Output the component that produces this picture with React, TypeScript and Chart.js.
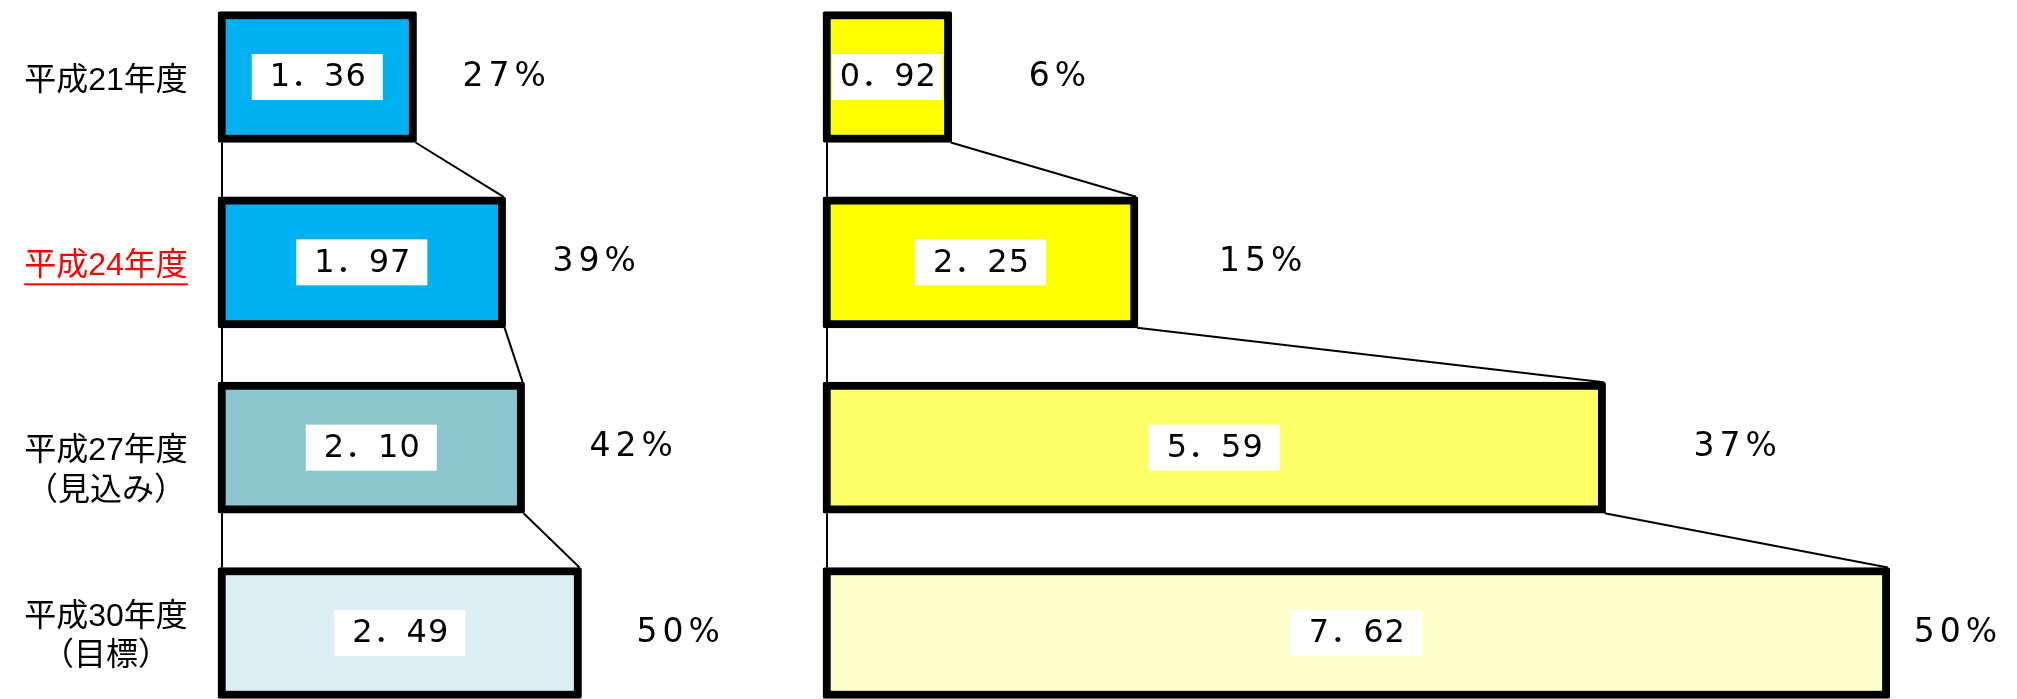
import React, { useEffect, useRef } from "react";
import { Chart, registerables } from "chart.js";

Chart.register(...registerables);

// ---------- data ----------
const tickLabels: (string | string[])[] = [
  "平成21年度",
  "平成24年度",
  ["", "平成27年度", "（見込み）"],
  ["平成30年度", "（目標）"],
];
const highlightIndex = 1;
const leftValues = [1.36, 1.97, 2.1, 2.49];
const leftPercents = ["27%", "39%", "42%", "50%"];
const rightValues = [0.92, 2.25, 5.59, 7.62];
const rightPercents = ["6%", "15%", "37%", "50%"];

// ---------- styles ----------
const W = 2017;
const H = 699;
const leftColors = ["#00B0F0", "#00B0F0", "#8CC6CE", "#DAEEF3"];
const rightColors = ["#FFFF00", "#FFFF00", "#FFFF66", "#FFFFCC"];
const LABEL_FAMILY = '"Liberation Sans", "Noto Sans CJK JP", sans-serif';
const NUM_FAMILY = '"DejaVu Sans", "Noto Sans CJK JP", sans-serif';
const TICK_SIZE = 32;
const LABEL_CENTER_X = 106;
const LABEL_OFFSET_Y = 4;
const Y_AXIS_W = 218;
const leftPctGap = [46, 47, 65, 55];
const rightPctGap = [77, 81, 88, 24];

const fmt = (v: number) => v.toFixed(2).replace(".", "．");

function measureWidest(): number {
  const c = document.createElement("canvas").getContext("2d")!;
  c.font = `${TICK_SIZE}px ${LABEL_FAMILY}`;
  let w = 0;
  tickLabels.forEach((l) => {
    (Array.isArray(l) ? l : [l]).forEach((s) => {
      w = Math.max(w, c.measureText(s).width);
    });
  });
  return w;
}

function overlay(percents: string[], gaps: number[], underline: boolean) {
  return {
    id: "overlay",
    beforeDatasetsDraw(chart: any) {
      const ctx = chart.ctx;
      const els = chart.getDatasetMeta(0).data;
      ctx.save();
      ctx.strokeStyle = "#000";
      ctx.lineWidth = 2;
      for (let i = 0; i < els.length - 1; i++) {
        const a = els[i].getProps(["x", "y", "base", "height"], true);
        const b = els[i + 1].getProps(["x", "y", "base", "height"], true);
        ctx.beginPath();
        ctx.moveTo(a.base + 4, a.y + a.height / 2);
        ctx.lineTo(b.base + 4, b.y - b.height / 2);
        ctx.moveTo(a.x - 1, a.y + a.height / 2);
        ctx.lineTo(b.x - 2, b.y - b.height / 2);
        ctx.stroke();
      }
      ctx.restore();
    },
    afterDatasetsDraw(chart: any) {
      const ctx = chart.ctx;
      const els = chart.getDatasetMeta(0).data;
      const values = chart.data.datasets[0].data as number[];
      els.forEach((el: any, i: number) => {
        const p = el.getProps(["x", "y", "base", "height"], true);
        ctx.save();
        // value box
        ctx.font = `32px ${NUM_FAMILY}`;
        (ctx as any).letterSpacing = "1px";
        const label = fmt(values[i]);
        const tw = ctx.measureText(label).width;
        const inner = p.x - p.base - 16;
        const bw = Math.min(tw + 34, inner - 2);
        const bh = 46;
        const cx = (p.x + p.base) / 2;
        ctx.fillStyle = "#fff";
        ctx.fillRect(cx - bw / 2, p.y - bh / 2, bw, bh);
        ctx.fillStyle = "#000";
        ctx.textAlign = "center";
        ctx.textBaseline = "middle";
        ctx.fillText(label, cx + 1, p.y + 1);
        // percent
        ctx.font = `33px ${NUM_FAMILY}`;
        (ctx as any).letterSpacing = "5px";
        ctx.textAlign = "left";
        ctx.fillText(percents[i], p.x + gaps[i], p.y);
        ctx.restore();
      });
    },
    afterDraw(chart: any) {
      if (!underline) return;
      const ctx = chart.ctx;
      const ys = chart.scales.y;
      const yPix = ys.getPixelForTick(highlightIndex) + LABEL_OFFSET_Y;
      ctx.save();
      ctx.font = `${TICK_SIZE}px ${LABEL_FAMILY}`;
      const w = ctx.measureText(tickLabels[highlightIndex] as string).width;
      ctx.fillStyle = "#FF0000";
      ctx.fillRect(LABEL_CENTER_X - w / 2, yPix + 17, w, 2);
      ctx.restore();
    },
  };
}

function makeChart(canvas: HTMLCanvasElement, side: "left" | "right") {
  const isLeft = side === "left";
  const widest = measureWidest();
  const pad = Y_AXIS_W - LABEL_CENTER_X - widest / 2;
  return new Chart(canvas, {
    type: "bar",
    data: {
      labels: tickLabels as any,
      datasets: [
        {
          data: isLeft ? leftValues : rightValues,
          backgroundColor: isLeft ? leftColors : rightColors,
          borderColor: "#000",
          borderWidth: 8,
          borderSkipped: false,
          borderRadius: 2,
          barThickness: 131,
          clip: false as any,
        },
      ],
    },
    options: {
      indexAxis: "y",
      animation: false,
      responsive: false,
      layout: {
        padding: isLeft
          ? { left: 0, right: 13, top: 77, bottom: 66 }
          : { left: 8, right: 74, top: 77, bottom: 66 },
      },
      plugins: { legend: { display: false }, tooltip: { enabled: false } },
      scales: {
        x: { min: 0, max: isLeft ? 4 : 8, display: false },
        y: {
          type: "category",
          offset: false,
          display: isLeft,
          grid: { display: false, drawTicks: false },
          border: { display: false },
          afterFit: (s: any) => {
            if (isLeft) s.width = Y_AXIS_W;
          },
          ticks: {
            autoSkip: false,
            crossAlign: "center",
            padding: pad,
            labelOffset: LABEL_OFFSET_Y,
            font: { family: LABEL_FAMILY, size: TICK_SIZE, lineHeight: 1.22 },
            color: (c: any) => (c.index === highlightIndex ? "#FF0000" : "#000000"),
          },
        },
      },
    } as any,
    plugins: [overlay(isLeft ? leftPercents : rightPercents, isLeft ? leftPctGap : rightPctGap, isLeft)],
  });
}

export default function App() {
  const leftRef = useRef<HTMLCanvasElement>(null);
  const rightRef = useRef<HTMLCanvasElement>(null);
  useEffect(() => {
    const charts = [makeChart(leftRef.current!, "left"), makeChart(rightRef.current!, "right")];
    return () => charts.forEach((c) => c.destroy());
  }, []);
  return (
    <div style={{ position: "absolute", left: 0, top: 0, width: W, height: H, background: "#fff" }}>
      <canvas ref={leftRef} width={815} height={H} style={{ position: "absolute", left: 0, top: 0 }} />
      <canvas ref={rightRef} width={1202} height={H} style={{ position: "absolute", left: 815, top: 0 }} />
    </div>
  );
}
